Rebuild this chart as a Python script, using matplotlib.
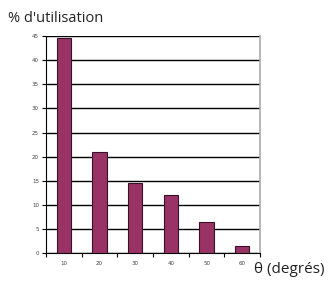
import numpy as np
import matplotlib.pyplot as plt

# angles and usage share
angles = ['10', '20', '30', '40', '50', '60']
usage = [44.5, 21.0, 14.5, 12.0, 6.5, 1.5]

fig = plt.figure(figsize=(3.28, 2.84), dpi=100)
ax = fig.add_axes([0.140, 0.109, 0.653, 0.764])

x = np.arange(len(angles))
ax.bar(x, usage, width=0.4, color='#993366', edgecolor='#3a1028', linewidth=0.8, zorder=3)

ax.set_xlim(-0.5, len(angles) - 0.5)
ax.set_ylim(0, 45)
ax.set_yticks(np.arange(0, 46, 5))
ax.yaxis.grid(True, color='black', linewidth=1.0, zorder=0)

# ticks on category boundaries, labels centred under bars
ax.set_xticks(np.arange(-0.5, len(angles), 1.0))
ax.set_xticklabels([])
ax.set_xticks(x, minor=True)
ax.set_xticklabels(angles, minor=True)
ax.tick_params(axis='x', which='minor', length=0, labelsize=4, colors='#444444', pad=6)
ax.tick_params(axis='x', which='major', length=3, width=0.8, direction='out')
ax.tick_params(axis='y', length=3, width=0.8, labelsize=4, labelcolor='#444444', pad=2)

ax.spines['top'].set_visible(False)
ax.spines['right'].set_color('#aaaaaa')
ax.spines['right'].set_linewidth(1.2)
ax.spines['left'].set_linewidth(0.8)
ax.spines['bottom'].set_linewidth(0.8)

fig.text(0.025, 0.935, "% d'utilisation", fontsize=10.5, family='Open Sans',
         color='#222222', va='center', ha='left')
fig.text(0.99, 0.05, "θ (degrés)", fontsize=11, family='Open Sans',
         color='#222222', va='center', ha='right')

fig.savefig('out.png', dpi=100)
